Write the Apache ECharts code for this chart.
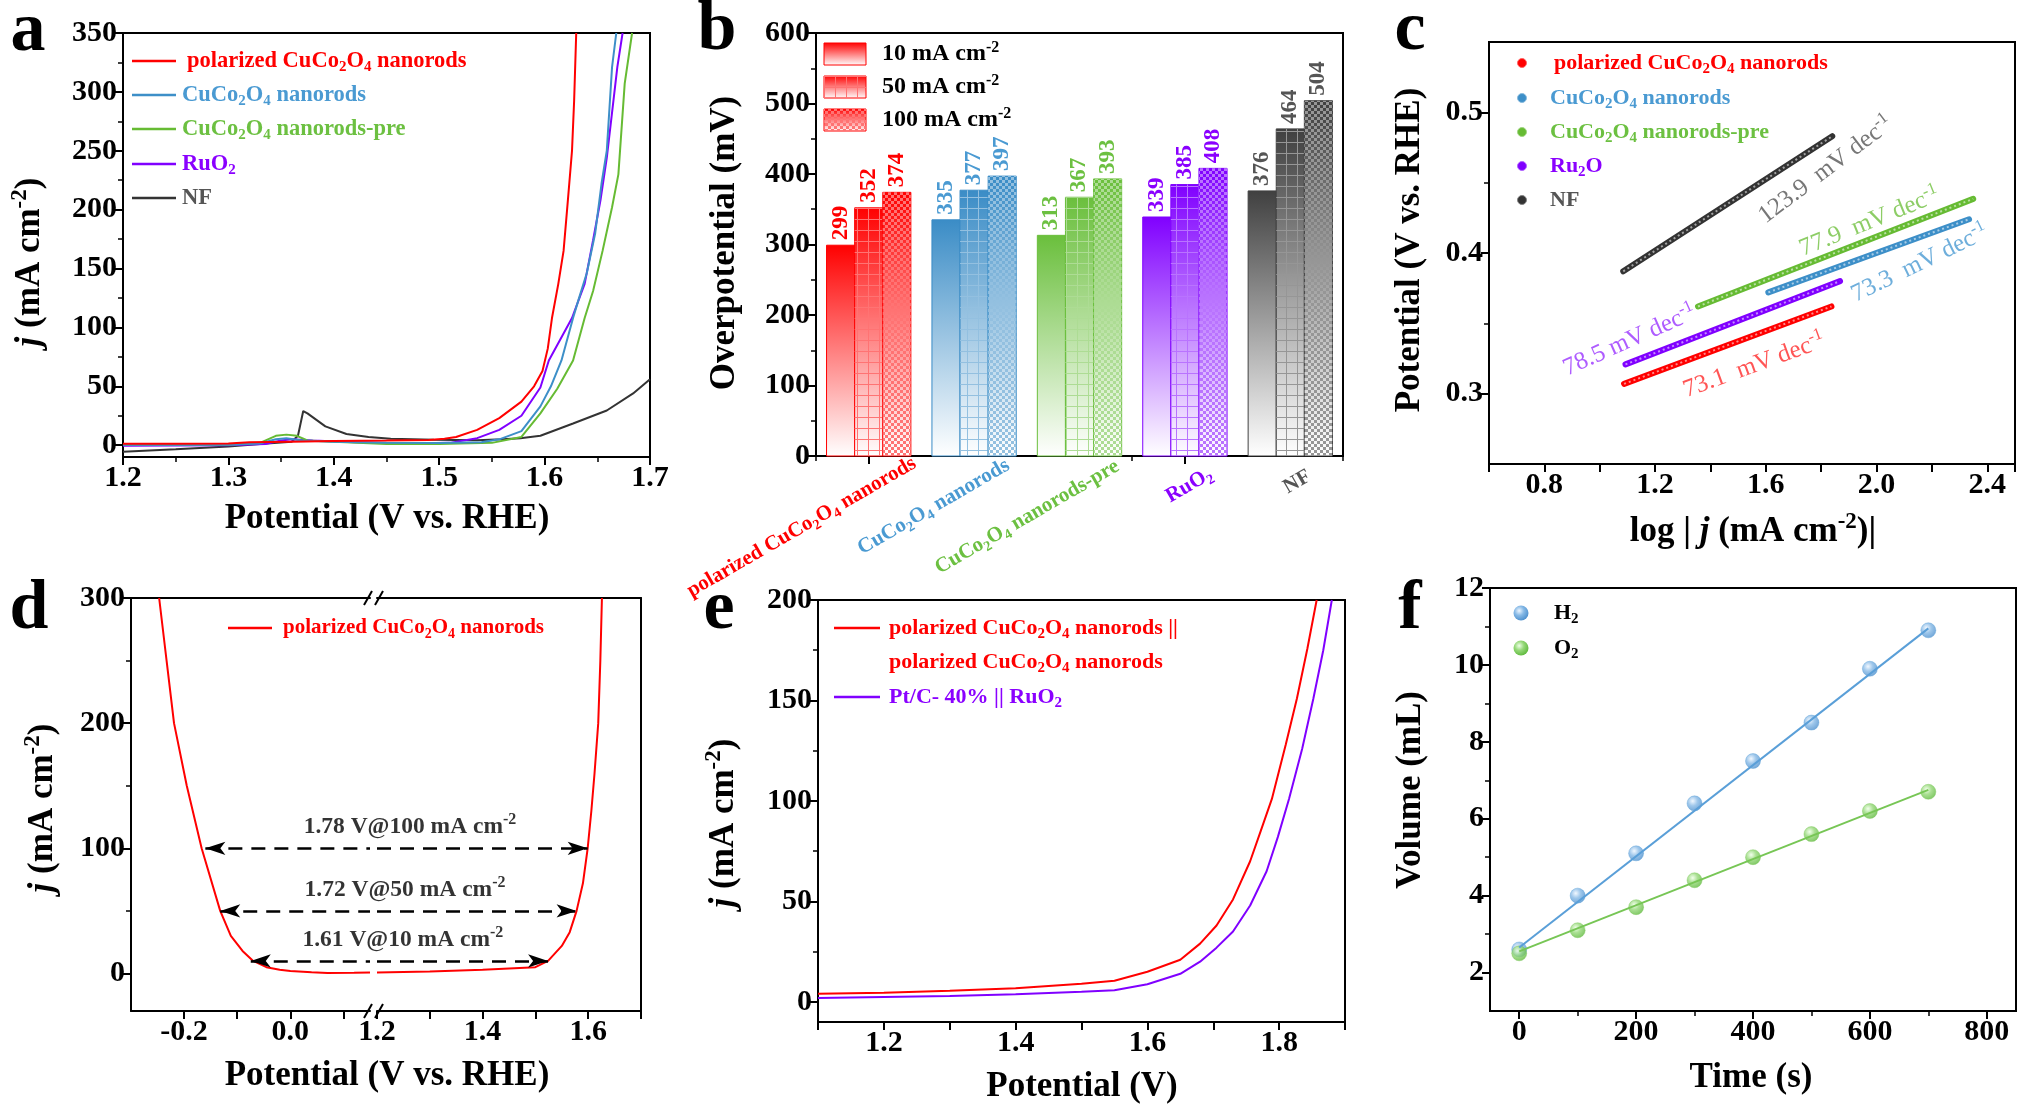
<!DOCTYPE html>
<html>
<head>
<meta charset="utf-8">
<title>CuCo2O4 nanorods electrocatalysis</title>
<script src="https://cdn.jsdelivr.net/npm/echarts@6/dist/echarts.min.js"></script>
<style>
html, body { margin: 0; padding: 0; background: #fff; }
#main { width: 2029px; height: 1117px; }
</style>
</head>
<body>
<div id="main"></div>
<script>
var FONT = '"Liberation Serif", "Times New Roman", serif';

// ---------- (a) OER polarization curves: [potential V vs RHE, j mA cm-2]
var lsvNames = ['polarized CuCo_2O_4 nanorods', 'CuCo_2O_4 nanorods', 'CuCo_2O_4 nanorods-pre', 'RuO_2', 'NF'];
var lsvPolarized = [[1.2,1.2],[1.25,1.3],[1.3,1.5],[1.32,2.5],[1.36,3],[1.4,3.5],[1.45,4],[1.49,4.5],[1.505,5.5],[1.516,7],[1.536,13],[1.557,23],[1.578,37],[1.59,50],[1.598,63],[1.603,82],[1.607,108],[1.613,137],[1.618,165],[1.622,207],[1.626,250],[1.628,292],[1.63,350]];
var lsvPristine = [[1.2,0.5],[1.3,0.5],[1.33,1.5],[1.345,5],[1.355,6],[1.37,4],[1.4,3],[1.45,2],[1.5,1.8],[1.54,2.5],[1.557,5],[1.578,12],[1.596,33],[1.606,50],[1.616,72],[1.627,108],[1.632,123],[1.64,146],[1.648,180],[1.654,222],[1.659,250],[1.664,321],[1.668,350]];
var lsvPre = [[1.2,0.3],[1.3,0.5],[1.33,2],[1.345,8],[1.355,9],[1.365,8],[1.375,4],[1.4,3],[1.45,1],[1.5,1],[1.55,2],[1.578,7],[1.596,27],[1.612,48],[1.627,72],[1.638,108],[1.646,131],[1.655,165],[1.664,202],[1.67,230],[1.676,307],[1.683,350]];
var lsvRuO2 = [[1.2,-0.5],[1.3,0],[1.335,1],[1.35,4],[1.36,5],[1.38,4],[1.42,2.5],[1.47,1.5],[1.51,2],[1.536,6],[1.557,13],[1.578,25],[1.596,49],[1.604,72],[1.615,90],[1.626,108],[1.638,137],[1.646,174],[1.653,208],[1.659,244],[1.669,321],[1.674,350]];
var lsvNF = [[1.2,-5.5],[1.25,-3.5],[1.3,-1],[1.33,1],[1.36,3],[1.366,8],[1.371,29],[1.375,27],[1.392,16],[1.412,9.5],[1.433,7],[1.454,5.5],[1.495,4.6],[1.536,4.2],[1.56,5],[1.577,6],[1.596,8],[1.627,18.4],[1.659,29.5],[1.684,44],[1.7,56]];
var aXTicks = [1.2, 1.3, 1.4, 1.5, 1.6, 1.7];
var aYTicks = [0, 50, 100, 150, 200, 250, 300, 350];

// ---------- (b) overpotentials (mV) at 10 / 50 / 100 mA cm-2
var cats = ['polarized CuCo_2O_4 nanorods', 'CuCo_2O_4 nanorods', 'CuCo_2O_4 nanorods-pre', 'RuO_2', 'NF'];
var eta10 = [299, 335, 313, 339, 376];
var eta50 = [352, 377, 367, 385, 464];
var eta100 = [374, 397, 393, 408, 504];
var currentNames = ['10 mA cm^-2', '50 mA cm^-2', '100 mA cm^-2'];
var bYTicks = [0, 100, 200, 300, 400, 500, 600];

// ---------- (c) Tafel plots: [log j, potential V]
var tafelNames = ['polarized CuCo_2O_4 nanorods', 'CuCo_2O_4 nanorods', 'CuCo_2O_4 nanorods-pre', 'Ru_2O', 'NF'];
var tafelPolarized = [[1.088, 0.307], [1.837, 0.362]];
var tafelPristine = [[1.609, 0.372], [2.334, 0.424]];
var tafelPre = [[1.355, 0.362], [2.349, 0.4385]];
var tafelRu = [[1.093, 0.3208], [1.868, 0.380]];
var tafelNF = [[1.085, 0.387], [1.84, 0.483]];
var tafelSlopes = ['73.1  mV dec^-1', '73.3  mV dec^-1', '77.9  mV dec^-1', '78.5 mV dec^-1', '123.9  mV dec^-1'];
var cXTicks = [0.8, 1.2, 1.6, 2.0, 2.4];
var cYTicks = [0.3, 0.4, 0.5];

// ---------- (d) two-sided polarization of polarized CuCo2O4 (HER | OER)
var dHer = [[-0.247,300],[-0.233,250],[-0.219,200],[-0.195,150],[-0.167,100],[-0.132,50],[-0.112,30],[-0.09,18],[-0.07,10],[-0.045,5],[-0.02,3],[0,2],[0.04,1],[0.07,0.4],[0.12,0.6],[0.15,0.8]];
var dOer = [[1.2,0.8],[1.3,1.5],[1.4,3],[1.45,4],[1.5,5],[1.524,10],[1.55,22],[1.565,33],[1.578,50],[1.59,72],[1.599,100],[1.606,130],[1.612,160],[1.619,200],[1.623,250],[1.626,300]];
var dMarks = [100, 50, 10];
var dHerTip = [-0.160, -0.132, -0.0745];
var dOerTip = [1.599, 1.578, 1.524];
var dMarkText = ['1.78 V@100 mA cm^-2', '1.72 V@50 mA cm^-2', '1.61 V@10 mA cm^-2'];
var dXTicksL = [-0.2, 0.0];
var dXTicksR = [1.2, 1.4, 1.6];
var dYTicks = [0, 100, 200, 300];

// ---------- (e) overall water splitting
var eNames = ['polarized CuCo_2O_4 nanorods ||', 'Pt/C- 40% || RuO_2'];
var eNames2 = 'polarized CuCo_2O_4 nanorods';
var eCuCo = [[1.1,4],[1.2,4.6],[1.3,5.5],[1.4,6.8],[1.5,9],[1.55,10.5],[1.6,15],[1.65,21],[1.68,29],[1.705,38],[1.73,51],[1.756,70],[1.772,85],[1.789,101],[1.81,128],[1.827,151],[1.843,176],[1.857,200]];
var ePtRu = [[1.1,2],[1.2,2.5],[1.3,3],[1.4,3.8],[1.5,5],[1.55,5.8],[1.6,8.8],[1.65,14],[1.68,20],[1.705,27],[1.73,35],[1.756,48],[1.781,65],[1.798,82],[1.815,101],[1.835,126],[1.852,151],[1.867,175],[1.88,200]];
var eXTicks = [1.2, 1.4, 1.6, 1.8];
var eYTicks = [0, 50, 100, 150, 200];

// ---------- (f) gas volumes
var gasNames = ['H_2', 'O_2'];
var times = [0, 100, 200, 300, 400, 500, 600, 700];
var h2Vol = [2.6, 4.0, 5.1, 6.4, 7.5, 8.5, 9.9, 10.9];
var o2Vol = [2.5, 3.1, 3.7, 4.4, 5.0, 5.6, 6.2, 6.7];
var h2Fit = [[0, 2.65], [700, 10.95]];
var o2Fit = [[0, 2.55], [700, 6.75]];
var fXTicks = [0, 200, 400, 600, 800];
var fYTicks = [2, 4, 6, 8, 10, 12];

// ---------- styling
var TICK_FONT = 30;
var lineColors = ['#ff0000', '#3d8fc8', '#66bb33', '#8000ff', '#333333'];
var textColors = ['#ff0000', '#4a9ad2', '#6cc041', '#8a00ff', '#555555'];
var barColors = ['#ff0000', '#3a8cc6', '#6abf3c', '#8000ff', '#404040'];
var catLabelShift = [[46, 6], [34, 8], [38, 9], [26, 17], [19, 19]];

function mix(hex, t) {
  var r = parseInt(hex.slice(1, 3), 16), g = parseInt(hex.slice(3, 5), 16), b = parseInt(hex.slice(5, 7), 16);
  return 'rgb(' + Math.round(r + (255 - r) * t) + ',' + Math.round(g + (255 - g) * t) + ',' + Math.round(b + (255 - b) * t) + ')';
}
function gridPattern(color) {
  var c = document.createElement('canvas'); c.width = 11; c.height = 11;
  var g = c.getContext('2d'); g.fillStyle = color;
  g.fillRect(0, 10, 11, 1.5); g.fillRect(10, 0, 1.5, 11);
  return c;
}
function checkerPattern(color) {
  var c = document.createElement('canvas'); c.width = 6; c.height = 6;
  var g = c.getContext('2d'); g.fillStyle = color;
  g.fillRect(0, 0, 3, 3); g.fillRect(3, 3, 3, 3);
  return c;
}
var gridPats = barColors.map(function (c) { return gridPattern(mix(c, 0.45)); });
var checkPats = barColors.map(function (c) { return checkerPattern(mix(c, 0.45)); });
function barGradient(c) {
  return new echarts.graphic.LinearGradient(0, 0, 0, 1, [{offset: 0, color: c}, {offset: 1, color: '#ffffff'}]);
}

// "CuCo_2O_4", "cm^-2", "*j*" -> rich text
function rt(s) {
  return String(s).split(/(_\d+|\^[-\d]+|\*\w+\*)/).filter(function (p) { return p !== ''; }).map(function (p) {
    if (p.charAt(0) === '_') return '{s|' + p.slice(1) + '}';
    if (p.charAt(0) === '^') return '{p|' + p.slice(1) + '}';
    if (p.charAt(0) === '*') return '{i|' + p.slice(1, -1) + '}';
    return '{n|' + p + '}';
  }).join('');
}
function richSet(size, color, weight) {
  var w = weight || 'bold', sm = Math.round(size * 0.66), h = Math.round(size * 0.44);
  function mk(o) { o.fontFamily = FONT; o.fontWeight = w; o.fill = color; o.color = color; if (!o.fontStyle) o.fontStyle = 'normal'; return o; }
  return {
    n: mk({fontSize: size}),
    i: mk({fontSize: size, fontStyle: 'italic'}),
    s: mk({fontSize: sm, height: h, lineHeight: h, verticalAlign: 'bottom'}),
    p: mk({fontSize: sm, height: h, lineHeight: h, verticalAlign: 'top'})
  };
}
function txt(x, y, s, size, color, o) {
  o = o || {};
  return {
    type: 'text', x: x, y: y, rotation: o.rot || 0, z: 100, silent: true,
    style: {
      legacy: false, text: rt(s), rich: richSet(size, color, o.weight),
      fill: color, font: (o.weight || 'bold') + ' ' + size + 'px ' + FONT,
      align: o.align || 'left', verticalAlign: 'middle'
    }
  };
}

function vAxis(grid, min, max, o) {
  o = o || {};
  var ax = {
    type: 'value', gridIndex: grid, min: min, max: max,
    axisLine: {show: true, onZero: false, lineStyle: {color: '#000', width: 2}},
    axisTick: {show: true, inside: false, length: 8, lineStyle: {color: '#000', width: 2}},
    minorTick: {show: !!o.minor, splitNumber: 2, length: 5, lineStyle: {color: '#000', width: 1.5}},
    axisLabel: {show: !!o.labels, color: '#000', fontFamily: FONT, fontWeight: 'bold', fontSize: TICK_FONT, margin: 6},
    splitLine: {show: false}
  };
  if (o.position) ax.position = o.position;
  if (o.interval) ax.interval = o.interval;
  if (o.splitNumber) ax.splitNumber = o.splitNumber;
  if (o.ticks) ax.axisTick.customValues = o.ticks;
  if (o.labels) ax.axisLabel.customValues = o.labels;
  if (o.fmt) ax.axisLabel.formatter = o.fmt;
  if (o.bare) { ax.axisTick.show = false; ax.minorTick.show = false; ax.axisLabel.show = false; }
  return ax;
}
function oneDec(v) { return v.toFixed(1); }

var frame = {show: true, borderColor: '#000', borderWidth: 2, backgroundColor: 'transparent'};
var grids = [
  Object.assign({left: 123, top: 33, width: 527, height: 424}, frame),   // a
  Object.assign({left: 816, top: 33, width: 527, height: 423}, frame),   // b
  Object.assign({left: 1489, top: 42, width: 526, height: 422}, frame),  // c
  {left: 131, top: 598, width: 239, height: 413},                        // d (HER side)
  {left: 377, top: 598, width: 264, height: 413},                        // d (OER side)
  Object.assign({left: 818, top: 600, width: 527, height: 422}, frame),  // e
  Object.assign({left: 1490, top: 588, width: 526, height: 423}, frame)  // f
];

var xAxes = [
  vAxis(0, 1.2, 1.7, {interval: 0.1, minor: true, labels: aXTicks, fmt: oneDec}),
  {type: 'category', gridIndex: 1, data: cats, boundaryGap: true, position: 'bottom',
   axisLine: {lineStyle: {color: '#000', width: 2}},
   axisTick: {show: true, alignWithLabel: true, length: 8, lineStyle: {color: '#000', width: 2}},
   axisLabel: {show: false}},
  vAxis(2, 0.6, 2.5, {interval: 0.2, labels: cXTicks, fmt: oneDec}),
  vAxis(3, -0.3, 0.15, {interval: 0.1, ticks: [-0.2, -0.1, 0, 0.1], labels: dXTicksL, fmt: oneDec}),
  vAxis(3, -0.3, 0.15, {position: 'top', bare: true}),
  vAxis(4, 1.2, 1.7, {interval: 0.1, labels: dXTicksR, fmt: oneDec}),
  vAxis(4, 1.2, 1.7, {position: 'top', bare: true}),
  vAxis(5, 1.1, 1.9, {interval: 0.1, labels: eXTicks, fmt: oneDec}),
  vAxis(6, -50, 850, {splitNumber: 4, minor: true, ticks: fXTicks, labels: fXTicks}),
  // group-boundary ticks for (b)
  {type: 'category', gridIndex: 1, data: cats, boundaryGap: true, position: 'bottom', offset: 0,
   axisLine: {show: false},
   axisTick: {show: true, alignWithLabel: false, length: 5, lineStyle: {color: '#000', width: 1.5}},
   axisLabel: {show: false}}
];
var yAxes = [
  vAxis(0, -10, 350, {splitNumber: 7, minor: true, ticks: aYTicks, labels: aYTicks}),
  vAxis(1, 0, 600, {interval: 100, minor: true, labels: bYTicks}),
  vAxis(2, 0.25, 0.55, {splitNumber: 3, minor: true, ticks: cYTicks, labels: cYTicks, fmt: oneDec}),
  vAxis(3, -30, 300, {splitNumber: 3, minor: true, ticks: dYTicks, labels: dYTicks}),
  vAxis(4, -30, 300, {position: 'right', bare: true}),
  vAxis(5, -10, 200, {splitNumber: 4, minor: true, ticks: eYTicks, labels: eYTicks}),
  vAxis(6, 1, 12, {splitNumber: 5, minor: true, ticks: fYTicks, labels: fYTicks})
];

var series = [];

// (a)
[lsvNF, lsvRuO2, lsvPre, lsvPristine, lsvPolarized].forEach(function (d, j) {
  var i = 4 - j;
  series.push({type: 'line', name: lsvNames[i], xAxisIndex: 0, yAxisIndex: 0, data: d,
    showSymbol: false, symbol: 'none', lineStyle: {color: lineColors[i], width: 2}, itemStyle: {color: lineColors[i]}});
});

// (b) grouped bars with gradient / grid / checker fills
var barData = [];
[eta10, eta50, eta100].forEach(function (arr, k) {
  arr.forEach(function (v, ci) { barData.push([ci, v, k]); });
});
series.push({
  type: 'custom', xAxisIndex: 1, yAxisIndex: 1, data: barData, encode: {x: 0, y: 1},
  renderItem: function (params, api) {
    var ci = api.value(0), v = api.value(1), k = api.value(2);
    var band = api.size([1, 0])[0];
    var gw = band * 0.8, bw = gw / 3;
    var base = api.coord([ci, 0]), top = api.coord([ci, v]);
    var x0 = base[0] - gw / 2 + k * bw;
    var col = barColors[ci];
    var shape = {x: x0, y: top[1], width: bw, height: base[1] - top[1]};
    var kids = [{type: 'rect', shape: shape, style: {fill: barGradient(col), stroke: col, lineWidth: 1}}];
    if (k > 0) kids.push({type: 'rect', shape: shape, style: {fill: {image: k === 1 ? gridPats[ci] : checkPats[ci], repeat: 'repeat'}}});
    kids.push({type: 'text', x: x0 + bw / 2, y: top[1] - 5, rotation: Math.PI / 2,
      style: {legacy: false, text: String(v), fill: textColors[ci], font: 'bold 23px ' + FONT, align: 'left', verticalAlign: 'middle'}});
    if (k === 0) {
      var sh = catLabelShift[ci];
      var t = txt(base[0] + sh[0], base[1] + sh[1], cats[ci], 21, textColors[ci], {align: 'right', rot: Math.PI / 6});
      delete t.z; delete t.silent;
      kids.push(t);
    }
    return {type: 'group', children: kids};
  }
});

// (c) dense Tafel points drawn as a thick band with a dotted light core
[tafelPolarized, tafelPristine, tafelPre, tafelRu, tafelNF].forEach(function (d, i) {
  series.push({type: 'line', name: tafelNames[i], xAxisIndex: 2, yAxisIndex: 2, data: d,
    showSymbol: false, symbol: 'none', lineStyle: {color: lineColors[i], width: 6, cap: 'round'}, itemStyle: {color: lineColors[i]}});
  series.push({type: 'line', xAxisIndex: 2, yAxisIndex: 2, data: d, showSymbol: false, symbol: 'none', silent: true,
    lineStyle: {color: 'rgba(255,255,255,0.55)', width: 2, type: [2, 3]}});
});
var tafelLabelAt = [[1.558, 0.320], [2.156, 0.3925], [1.975, 0.422], [1.108, 0.3377], [1.817, 0.459]];
var tafelLabelAngle = [20, 26, 22, 24, 37];
var tafelLabelColor = ['#ff2a2a', '#4a9ad2', '#70c040', '#9a33ff', '#555555'];
series.push({
  type: 'scatter', xAxisIndex: 2, yAxisIndex: 2, symbolSize: 0, silent: true,
  data: tafelSlopes.map(function (s, i) {
    return {name: s, value: tafelLabelAt[i],
      label: {rotate: tafelLabelAngle[i], rich: richSet(25, tafelLabelColor[i], 'normal')}};
  }),
  label: {show: true, position: 'inside', formatter: function (p) { return rt(p.name); }}
});

// (d)
var arrowLine = {type: [14, 9], color: '#000', width: 2.5};
series.push({type: 'line', xAxisIndex: 3, yAxisIndex: 3, data: dHer, showSymbol: false, symbol: 'none',
  lineStyle: {color: '#ff0000', width: 2}, itemStyle: {color: '#ff0000'},
  markLine: {silent: true, symbol: ['arrow', 'none'], symbolSize: [10, 20], lineStyle: arrowLine, label: {show: false},
    data: dMarks.map(function (j, i) { return [{coord: [dHerTip[i], j]}, {coord: [0.15, j]}]; })}});
series.push({type: 'line', xAxisIndex: 5, yAxisIndex: 4, data: dOer, showSymbol: false, symbol: 'none',
  lineStyle: {color: '#ff0000', width: 2}, itemStyle: {color: '#ff0000'},
  markLine: {silent: true, symbol: ['none', 'arrow'], symbolSize: [10, 20], lineStyle: arrowLine, label: {show: false},
    data: dMarks.map(function (j, i) { return [{coord: [1.2, j]}, {coord: [dOerTip[i], j]}]; })}});
var dLabelX = [1.2625, 1.253, 1.249];
series.push({type: 'scatter', xAxisIndex: 5, yAxisIndex: 4, symbolSize: 0, silent: true,
  data: dMarkText.map(function (s, i) { return {name: s, value: [dLabelX[i], dMarks[i]]}; }),
  label: {show: true, position: 'inside', offset: [0, -21], rich: richSet(23.5, '#000'),
    formatter: function (p) { return rt(p.name); }}});

// (e)
[eCuCo, ePtRu].forEach(function (d, i) {
  var c = i === 0 ? '#ff0000' : '#8000ff';
  series.push({type: 'line', xAxisIndex: 7, yAxisIndex: 5, data: d, showSymbol: false, symbol: 'none',
    lineStyle: {color: c, width: 2}, itemStyle: {color: c}});
});

// (f)
function sphere(light, mid, dark) {
  return new echarts.graphic.RadialGradient(0.38, 0.35, 0.7, [
    {offset: 0, color: light}, {offset: 0.45, color: mid}, {offset: 1, color: dark}]);
}
var gasLine = ['#5a9fd8', '#77c655'];
var gasBall = [sphere('#eef6ff', '#86b9e6', '#4a8dcc'), sphere('#eeffe6', '#95d878', '#5cb83a')];
[h2Fit, o2Fit].forEach(function (d, i) {
  series.push({type: 'line', xAxisIndex: 8, yAxisIndex: 6, data: d, showSymbol: false, symbol: 'none',
    lineStyle: {color: gasLine[i], width: 2}, itemStyle: {color: gasLine[i]}});
});
[h2Vol, o2Vol].forEach(function (vol, i) {
  series.push({type: 'scatter', name: gasNames[i], xAxisIndex: 8, yAxisIndex: 6, symbolSize: 15,
    data: times.map(function (t, k) { return [t, vol[k]]; }),
    itemStyle: {color: gasBall[i], borderColor: gasLine[i], borderWidth: 0.5}});
});

// ---------- overlay texts, legends
var G = [];
[['a', 28, 32], ['b', 717, 31], ['c', 1410, 31], ['d', 29, 610], ['e', 719, 610], ['f', 1410, 610]].forEach(function (p) {
  G.push(txt(p[1], p[2], p[0], 70, '#000', {align: 'center'}));
});
var R = Math.PI / 2;
G.push(txt(387, 519, 'Potential (V vs. RHE)', 35, '#000', {align: 'center'}));
G.push(txt(30, 262, '*j* (mA cm^-2)', 35, '#000', {align: 'center', rot: R}));
G.push(txt(725, 243, 'Overpotential (mV)', 35, '#000', {align: 'center', rot: R}));
G.push(txt(1753, 532, 'log | *j* (mA cm^-2)|', 35, '#000', {align: 'center'}));
G.push(txt(1410, 250, 'Potential (V vs. RHE)', 35, '#000', {align: 'center', rot: R}));
G.push(txt(387, 1076, 'Potential (V vs. RHE)', 35, '#000', {align: 'center'}));
G.push(txt(43, 808, '*j* (mA cm^-2)', 35, '#000', {align: 'center', rot: R}));
G.push(txt(1082, 1087, 'Potential (V)', 35, '#000', {align: 'center'}));
G.push(txt(724, 823, '*j* (mA cm^-2)', 35, '#000', {align: 'center', rot: R}));
G.push(txt(1751, 1078, 'Time (s)', 35, '#000', {align: 'center'}));
G.push(txt(1411, 790, 'Volume (mL)', 35, '#000', {align: 'center', rot: R}));

// legend (a)
[61, 95, 129, 164, 198].forEach(function (y, i) {
  G.push({type: 'line', shape: {x1: 132, y1: y, x2: 176, y2: y}, style: {stroke: lineColors[i], lineWidth: 2.5}, z: 100});
  G.push(txt(i === 0 ? 187 : 182, y, lsvNames[i], 22.5, textColors[i]));
});
// legend (b)
[43, 76, 109].forEach(function (y, k) {
  var shp = {x: 824, y: y, width: 42, height: 22};
  G.push({type: 'rect', shape: shp, style: {fill: barGradient('#ff0000'), stroke: '#ff0000', lineWidth: 1}, z: 100});
  if (k > 0) G.push({type: 'rect', shape: shp, style: {fill: {image: k === 1 ? gridPats[0] : checkPats[0], repeat: 'repeat'}}, z: 101});
  G.push(txt(882, y + 11, currentNames[k], 24, '#000'));
});
// legend (c)
[63, 98, 132, 166, 200].forEach(function (y, i) {
  G.push({type: 'circle', shape: {cx: 1522, cy: y, r: 4.5}, style: {fill: lineColors[i], stroke: mix(lineColors[i], 0.4), lineWidth: 1}, z: 100});
  G.push(txt(i === 0 ? 1554 : 1550, y, tafelNames[i], 22, textColors[i]));
});
// legend (d)
G.push({type: 'line', shape: {x1: 228, y1: 628, x2: 272, y2: 628}, style: {stroke: '#ff0000', lineWidth: 2.5}, z: 100});
G.push(txt(283, 628, 'polarized CuCo_2O_4 nanorods', 21, '#ff0000'));
// axis break marks (d)
[598, 1011].forEach(function (y) {
  [368, 379].forEach(function (x) {
    G.push({type: 'line', shape: {x1: x - 4, y1: y + 7, x2: x + 4, y2: y - 7}, style: {stroke: '#000', lineWidth: 2}, z: 100});
  });
});
// legend (e)
G.push({type: 'line', shape: {x1: 834, y1: 628, x2: 880, y2: 628}, style: {stroke: '#ff0000', lineWidth: 2.5}, z: 100});
G.push(txt(889, 628, eNames[0], 22, '#ff0000'));
G.push(txt(889, 662, eNames2, 22, '#ff0000'));
G.push({type: 'line', shape: {x1: 834, y1: 697, x2: 880, y2: 697}, style: {stroke: '#8000ff', lineWidth: 2.5}, z: 100});
G.push(txt(889, 697, eNames[1], 22, '#8a00ff'));
// legend (f)
[613, 648].forEach(function (y, i) {
  G.push({type: 'circle', shape: {cx: 1521, cy: y, r: 7.5}, style: {fill: gasBall[i]}, z: 100});
  G.push(txt(1554, y, gasNames[i], 22, '#000'));
});

var chart = echarts.init(document.getElementById('main'), null, {renderer: 'canvas'});
chart.setOption({
  backgroundColor: '#ffffff',
  animation: false,
  grid: grids,
  xAxis: xAxes,
  yAxis: yAxes,
  series: series,
  graphic: {elements: G}
});
</script>
</body>
</html>
